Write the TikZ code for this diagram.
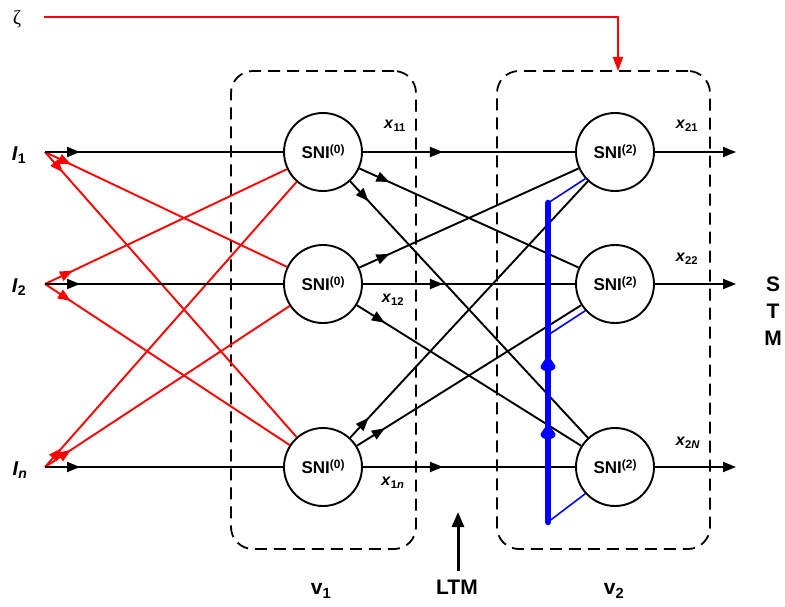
\documentclass[tikz,border=0pt]{standalone}
\usepackage{fontspec}
\setmainfont{Liberation Sans}
\newfontfamily\zetafont{Liberation Serif}
\usetikzlibrary{arrows.meta,decorations.markings}
\newcommand{\supx}[1]{\raisebox{0.55ex}{\fontsize{12}{12}\selectfont #1}}
\tikzset{
  sni/.style={circle, draw, line width=1.9pt, minimum size=78pt, inner sep=0pt, font=\fontsize{17}{18}\selectfont\bfseries},
  ln/.style={line width=1.9pt},
  redln/.style={line width=1.9pt, red},
  tri/.tip={Triangle[length=13pt,width=10pt]},
  midarrow/.style={postaction={decorate}, decoration={markings, mark=at position #1 with {\arrow{tri}}}},
  vbox/.style={draw, line width=1.8pt, rounded corners=22pt, dash pattern=on 12pt off 7pt, inner sep=0pt},
  xlab/.style={font=\fontsize{16}{17}\selectfont\bfseries},
  biglab/.style={font=\fontsize{21}{27}\selectfont\bfseries, align=center},
  inlab/.style={font=\fontsize{20}{22}\selectfont\bfseries},
}
\begin{document}
\begin{tikzpicture}[x=1pt,y=-1pt]
\useasboundingbox (0,0) rectangle (785,607);

% boxes
\node[vbox, minimum width=185pt, minimum height=478pt] (box1) at (323.5,310) {};
\node[vbox, minimum width=213pt, minimum height=478pt] (box2) at (603.5,310) {};

% SNI nodes
\node[sni] (a1) at (323,152) {SNI\supx{(0)}};
\node[sni] (a2) at (323,284) {SNI\supx{(0)}};
\node[sni] (a3) at (323,467) {SNI\supx{(0)}};
\node[sni] (b1) at (615,152) {SNI\supx{(2)}};
\node[sni] (b2) at (615,284) {SNI\supx{(2)}};
\node[sni] (b3) at (615,467) {SNI\supx{(2)}};

% inputs
\coordinate (i1) at (45,152);
\coordinate (i2) at (45,284);
\coordinate (i3) at (45,467);
\node[inlab] (li1) at (19,155) {\textit{I}\textsubscript{1}};
\node[inlab] (li2) at (19,287) {\textit{I}\textsubscript{2}};
\node[inlab] (li3) at (20,470) {\textit{I}\textsubscript{\textit{n}}};

% red cross inputs
\draw[redln, midarrow=29pt] (i1) -- (a2);
\draw[redln, midarrow=27pt] (i1) -- (a3);
\draw[redln, midarrow=31pt] (i2) -- (a1);
\draw[redln, midarrow=31pt] (i2) -- (a3);
\draw[redln, midarrow=25pt] (i3) -- (a1);
\draw[redln, midarrow=31pt] (i3) -- (a2);

% black inputs
\draw[ln, midarrow=35pt] (i1) -- (a1);
\draw[ln, midarrow=35pt] (i2) -- (a2);
\draw[ln, midarrow=35pt] (i3) -- (a3);

% layer connections
\draw[ln, midarrow=80pt] (a1) -- (b1);
\draw[ln, midarrow=80pt] (a2) -- (b2);
\draw[ln, midarrow=80pt] (a3) -- (b3);
\draw[ln, midarrow=33pt] (a1) -- (b2);
\draw[ln, midarrow=27pt] (a1) -- (b3);
\draw[ln, midarrow=33pt] (a2) -- (b1);
\draw[ln, midarrow=33pt] (a2) -- (b3);
\draw[ln, midarrow=27pt] (a3) -- (b1);
\draw[ln, midarrow=33pt] (a3) -- (b2);

% outputs
\coordinate (o1) at (736,152);
\coordinate (o2) at (736,284);
\coordinate (o3) at (736,467);
\draw[ln, -tri] (b1) -- (o1);
\draw[ln, -tri] (b2) -- (o2);
\draw[ln, -tri] (b3) -- (o3);

% labels x
\node[xlab] (x11) at (395,126) {\textit{x}\textsubscript{11}};
\node[xlab] (x12) at (393,300) {\textit{x}\textsubscript{12}};
\node[xlab] (x1n) at (393,483) {\textit{x}\textsubscript{1\textit{n}}};
\node[xlab] (x21) at (687,126) {\textit{x}\textsubscript{21}};
\node[xlab] (x22) at (687,259) {\textit{x}\textsubscript{22}};
\node[xlab] (x2N) at (688,443) {\textit{x}\textsubscript{2\textit{N}}};

% blue inhibition bar
\coordinate (bt) at (548,203);
\coordinate (bm) at (548,335);
\coordinate (bb) at (548,522);
\draw[blue, line width=1.6pt] (bt) -- (b1.222);
\draw[blue, line width=1.6pt] (bm) -- (b2.222);
\draw[blue, line width=1.6pt] (bb) -- (b3.222);
\draw[blue, line width=6.5pt, line cap=round] (bb) -- (bt);
\fill[blue] (548,355) -- (555.5,366) .. controls (556,373) and (540,373) .. (540.5,366) -- cycle;
\fill[blue] (548,423) -- (555.5,434) .. controls (556,441) and (540,441) .. (540.5,434) -- cycle;

% zeta
\node[font=\zetafont\fontsize{20}{22}\selectfont] (zeta) at (17,19) {ζ};
\coordinate (zs) at (44,17);
\coordinate (zt) at (618,71);
\draw[redln, -{Triangle[length=14pt,width=10pt]}] (zs) -| (zt);

% STM, LTM, v labels
\node[biglab] (stm) at (773,311) {S\\T\\M};
\node[biglab] (ltm) at (457,587) {LTM};
\coordinate (ltmtip) at (458,512);
\coordinate (ltmtail) at (458,571);
\draw[line width=3pt, -{Triangle[length=15pt,width=12pt]}] (ltmtail) -- (ltmtip);
\node[biglab] (v1) at (321,591) {v\textsubscript{1}};
\node[biglab] (v2) at (614,591) {v\textsubscript{2}};
\end{tikzpicture}
\end{document}
